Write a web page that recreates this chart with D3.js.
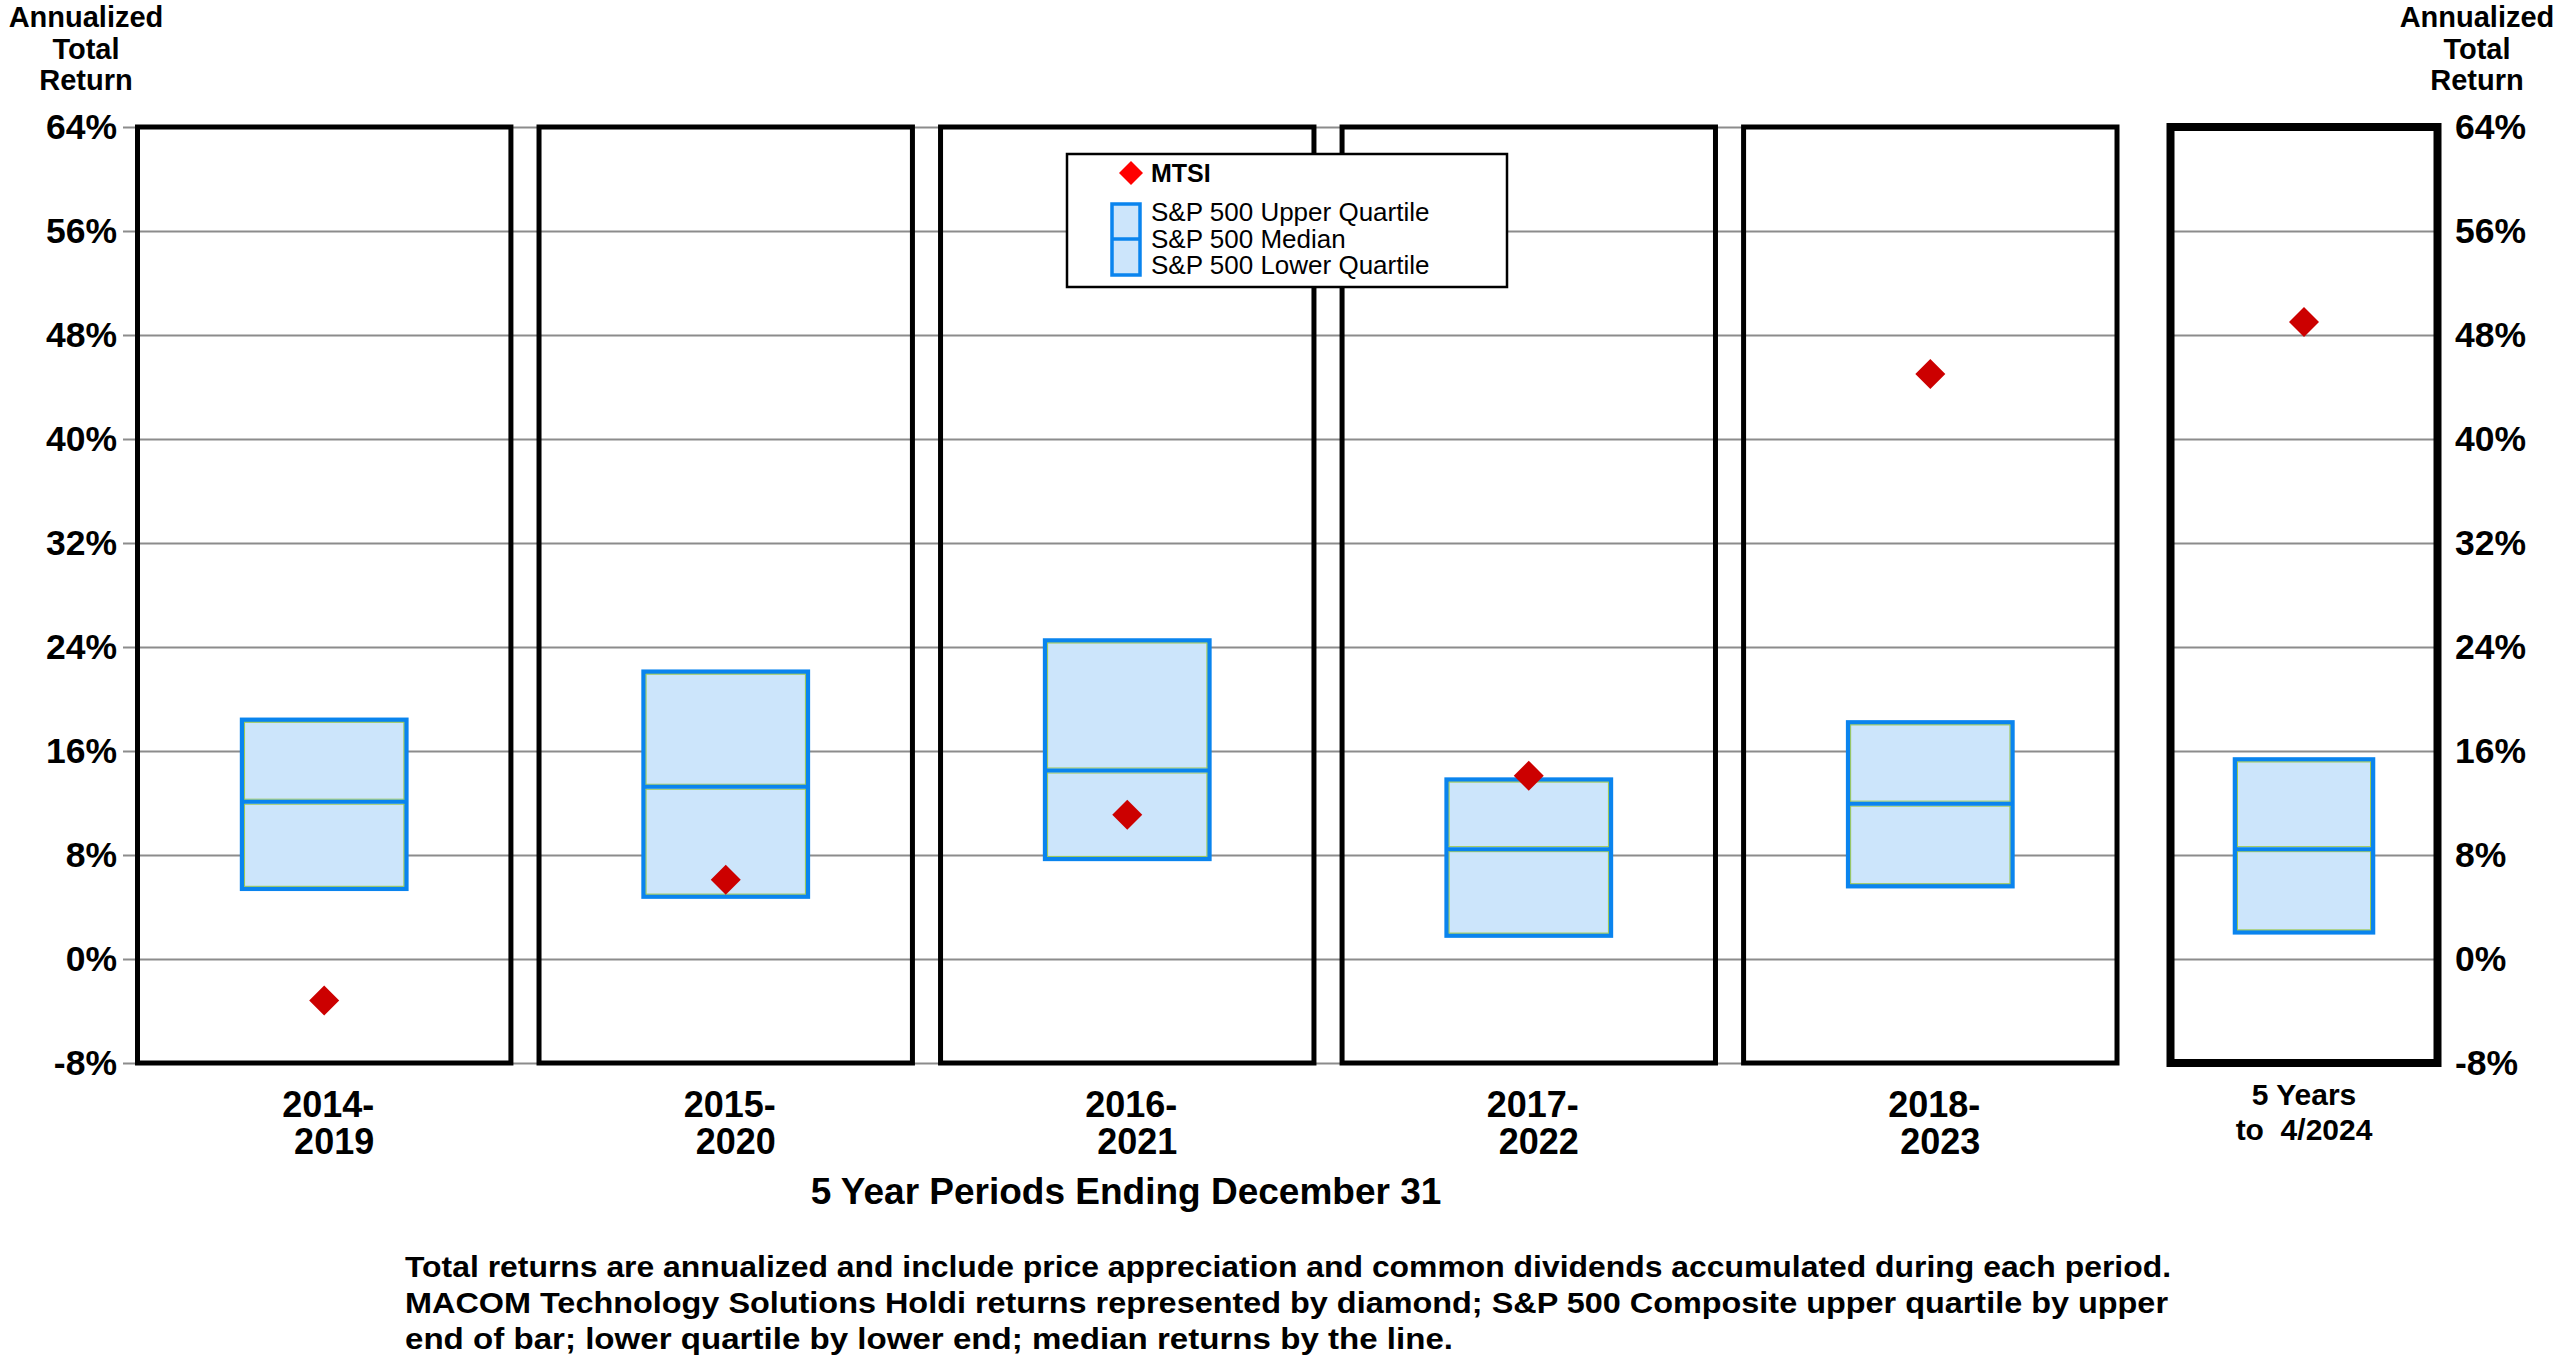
<!DOCTYPE html>
<meta charset="utf-8">
<style>
  body { margin: 0; background: #fff; }
  text { font-family: "Liberation Sans", Arial, Helvetica, sans-serif; fill: #000; }
  .tick line { stroke: #8c8c8c; stroke-width: 2; }
</style>
<svg width="2560" height="1367"></svg>
<script src="https://d3js.org/d3.v7.min.js"></script>
<script>

// 5 year periods ending December 31
var periods = ["2014-2019", "2015-2020", "2016-2021", "2017-2022", "2018-2023"];
var periodLabels = [["2014-", "2019"], ["2015-", "2020"], ["2016-", "2021"], ["2017-", "2022"], ["2018-", "2023"]];

// S&P 500 quartiles and MTSI, annualized total return (%)
var spUpper  = [18.4, 22.1, 24.5, 13.8, 18.2];
var spMedian = [12.1, 13.25, 14.5, 8.45, 11.95];
var spLower  = [5.4, 4.8, 7.7, 1.8, 5.6];
var mtsi     = [-3.2, 6.1, 11.1, 14.1, 45.0];

// most recent 5 years
var recentLabel  = ["5 Years", "to  4/2024"];
var recentUpper  = [15.35];
var recentMedian = [8.45];
var recentLower  = [2.05];
var recentMtsi   = [49.0];

var yTicks = [-8, 0, 8, 16, 24, 32, 40, 48, 56, 64];
var titleLines = ["Annualized", "Total", "Return"];
var footnote = [
  "Total returns are annualized and include price appreciation and common dividends accumulated during each period.",
  "MACOM Technology Solutions Holdi returns represented by diamond; S&P 500 Composite upper quartile by upper",
  "end of bar; lower quartile by lower end; median returns by the line."
];

var svg = d3.select("svg");

var y = d3.scaleLinear().domain([-8, 64]).range([1063, 127]);

var x = d3.scaleBand().domain(periods).range([137.5, 2117]).paddingInner(0.07).paddingOuter(0);
var x6 = d3.scaleBand().domain(["recent"]).range([2170.5, 2437.5]);

var blue = "#0a84ee", fill = "#cce5fb", green = "#9cc850", red = "#cc0000";

// gridlines + left labels
var leftAxis = svg.append("g")
    .attr("transform", "translate(123,0)")
    .call(d3.axisLeft(y).tickValues(yTicks).tickSize(-(2117 - 123)).tickPadding(6)
      .tickFormat(function(d) { return d + "%"; }));
leftAxis.select(".domain").remove();
leftAxis.selectAll("text").style("font-size", "35.5px").style("font-weight", "bold");

// right panel gridlines + right labels
var rightAxis = svg.append("g")
    .attr("transform", "translate(2437.5,0)")
    .call(d3.axisRight(y).tickValues(yTicks).tickSize(-x6.bandwidth()).tickPadding(17.5)
      .tickFormat(function(d) { return d + "%"; }));
rightAxis.select(".domain").remove();
rightAxis.selectAll("text").style("font-size", "35.5px").style("font-weight", "bold");

// axis titles
[86, 2477].forEach(function(cx) {
  svg.append("text")
      .attr("text-anchor", "middle")
      .style("font-size", "29px").style("font-weight", "bold")
    .selectAll("tspan").data(titleLines).enter().append("tspan")
      .attr("x", cx)
      .attr("y", function(d, i) { return 27 + i * 31.5; })
      .text(function(d) { return d; });
});

// panel frames
svg.selectAll(".frame").data(periods).enter().append("rect")
    .attr("class", "frame")
    .attr("x", function(d) { return x(d); })
    .attr("y", y(64))
    .attr("width", x.bandwidth())
    .attr("height", y(-8) - y(64))
    .attr("fill", "none").attr("stroke", "#000").attr("stroke-width", 5);

svg.append("rect")
    .attr("x", x6("recent")).attr("y", y(64))
    .attr("width", x6.bandwidth()).attr("height", y(-8) - y(64))
    .attr("fill", "none").attr("stroke", "#000").attr("stroke-width", 8);

// quartile boxes
function drawBox(cx, w, up, med, lo) {
  var g = svg.append("g");
  g.append("rect")
      .attr("x", cx - w / 2).attr("y", y(up))
      .attr("width", w).attr("height", y(lo) - y(up))
      .attr("fill", fill).attr("stroke", blue).attr("stroke-width", 4.5);
  g.append("rect")
      .attr("x", cx - w / 2 + 2.5).attr("y", y(up) + 2.5)
      .attr("width", w - 5).attr("height", y(lo) - y(up) - 5)
      .attr("fill", "none").attr("stroke", green).attr("stroke-width", 1);
  [-2.5, 2.5].forEach(function(o) {
    g.append("line")
        .attr("x1", cx - w / 2 + 2).attr("x2", cx + w / 2 - 2)
        .attr("y1", y(med) + o).attr("y2", y(med) + o)
        .attr("stroke", green).attr("stroke-width", 1);
  });
  g.append("line")
      .attr("x1", cx - w / 2).attr("x2", cx + w / 2)
      .attr("y1", y(med)).attr("y2", y(med))
      .attr("stroke", blue).attr("stroke-width", 4);
}

var diamond = d3.symbol().type(d3.symbolSquare).size(450);

periods.forEach(function(p, i) {
  var cx = x(p) + x.bandwidth() / 2;
  drawBox(cx, x.bandwidth() * 0.44, spUpper[i], spMedian[i], spLower[i]);
});
drawBox(x6("recent") + x6.bandwidth() / 2, x6.bandwidth() * 0.517, recentUpper[0], recentMedian[0], recentLower[0]);

// MTSI diamonds
svg.selectAll(".mtsi").data(periods).enter().append("path")
    .attr("class", "mtsi")
    .attr("d", diamond)
    .attr("fill", red)
    .attr("transform", function(d, i) {
      return "translate(" + (x(d) + x.bandwidth() / 2) + "," + y(mtsi[i]) + ") rotate(45)";
    });
svg.append("path")
    .attr("d", diamond)
    .attr("fill", red)
    .attr("transform", "translate(" + (x6("recent") + x6.bandwidth() / 2) + "," + y(recentMtsi[0]) + ") rotate(45)");

// category labels
periods.forEach(function(p, i) {
  svg.append("text")
      .attr("text-anchor", "end")
      .style("font-size", "36px").style("font-weight", "bold")
    .selectAll("tspan").data(periodLabels[i]).enter().append("tspan")
      .attr("x", x(p) + x.bandwidth() / 2 + 50)
      .attr("y", function(d, j) { return 1117 + j * 37; })
      .text(function(d) { return d; });
});
svg.append("text")
    .attr("text-anchor", "middle")
    .attr("xml:space", "preserve")
    .style("font-size", "30px").style("font-weight", "bold").style("white-space", "pre")
  .selectAll("tspan").data(recentLabel).enter().append("tspan")
    .attr("x", x6("recent") + x6.bandwidth() / 2)
    .attr("y", function(d, j) { return 1105 + j * 35; })
    .text(function(d) { return d; });

svg.append("text")
    .attr("x", 1126).attr("y", 1204)
    .attr("text-anchor", "middle")
    .style("font-size", "37px").style("font-weight", "bold")
    .text("5 Year Periods Ending December 31");

// footnote
var footWidths = [1766, 1763, 1048];
footnote.forEach(function(line, i) {
  svg.append("text")
      .attr("x", 405).attr("y", 1277 + i * 36)
      .attr("textLength", footWidths[i]).attr("lengthAdjust", "spacingAndGlyphs")
      .style("font-size", "30px").style("font-weight", "bold")
      .text(line);
});

// legend
var lg = svg.append("g");
lg.append("rect")
    .attr("x", 1067).attr("y", 154).attr("width", 440).attr("height", 133)
    .attr("fill", "#fff").attr("stroke", "#000").attr("stroke-width", 2.5);
lg.append("path")
    .attr("d", d3.symbol().type(d3.symbolSquare).size(288))
    .attr("fill", "#ff0000")
    .attr("transform", "translate(1131,173) rotate(45)");
lg.append("text")
    .attr("x", 1151).attr("y", 182)
    .style("font-size", "25px").style("font-weight", "bold")
    .text("MTSI");
lg.append("rect")
    .attr("x", 1112).attr("y", 204).attr("width", 28).attr("height", 71)
    .attr("fill", fill).attr("stroke", blue).attr("stroke-width", 3.5);
lg.append("line")
    .attr("x1", 1112).attr("x2", 1140).attr("y1", 239).attr("y2", 239)
    .attr("stroke", blue).attr("stroke-width", 3.5);
["S&P 500 Upper Quartile", "S&P 500 Median", "S&P 500 Lower Quartile"].forEach(function(t, i) {
  lg.append("text")
      .attr("x", 1151).attr("y", 221 + i * 26.5)
      .style("font-size", "26px")
      .text(t);
});

</script>
